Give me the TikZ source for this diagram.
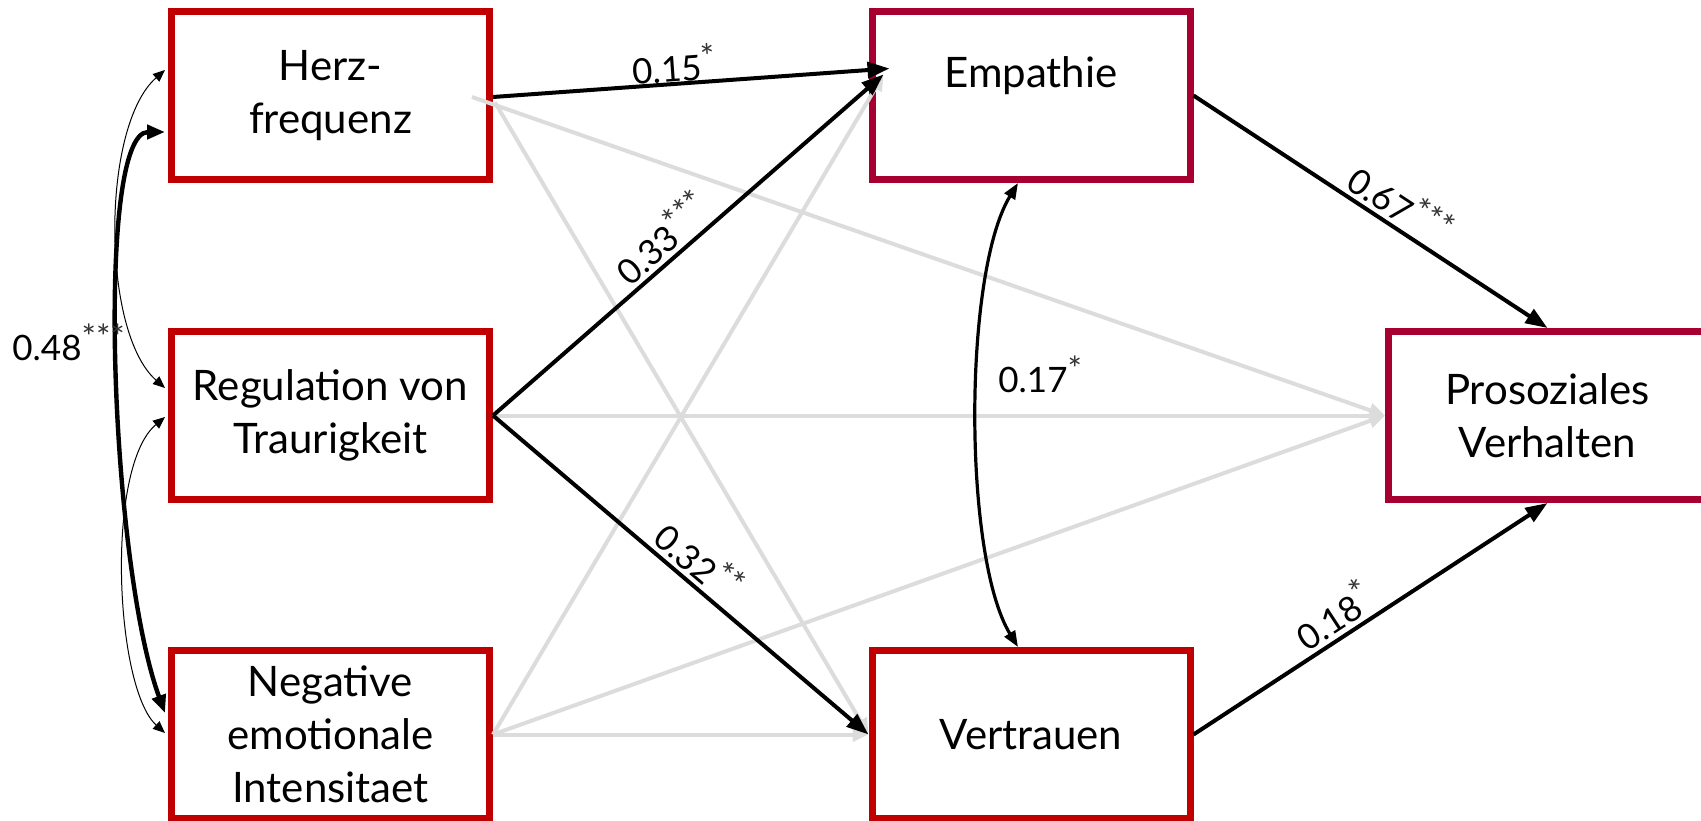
\documentclass[tikz,border=0pt]{standalone}
\usepackage{fontspec}
\setmainfont{Lato}
\usetikzlibrary{arrows.meta,calc}

\definecolor{boxred}{HTML}{C00000}
\definecolor{boxwine}{HTML}{A50030}
\definecolor{pathgray}{HTML}{DCDCDC}

\newcommand{\stars}[1]{\raisebox{0.3em}{\fontsize{17}{17}\selectfont\color{black!80}#1}}

\tikzset{
    var/.style={draw=boxred, line width=3.5pt, minimum width=159pt, minimum height=84pt,
        align=center, font=\fontsize{21}{26.5}\selectfont},
    outcome/.style={var, draw=boxwine},
    sig/.style={line width=2pt, -{Triangle[length=11pt,width=8pt]}},
    nonsig/.style={pathgray, line width=2pt, -{Triangle[length=8pt,width=7pt]}},
    corrthin/.style={line width=0.5pt, {Triangle[length=6pt,width=5pt]}-{Triangle[length=6pt,width=5pt]}},
    corrthick/.style={line width=2.2pt, {Triangle[length=9pt,width=7pt]}-{Triangle[length=9pt,width=7pt]}},
    coeff/.style={font=\fontsize{17.5}{20}\selectfont, inner sep=2pt},
}

\begin{document}
\begin{tikzpicture}[x=0.5pt,y=-0.5pt]
        \useasboundingbox (0,0) rectangle (1701,820);

        \node[var] (herz) at (330.5,95.5) {Herz-\\frequenz};
        \node[var] (reg) at (330.5,415.5) {Regulation von\\Traurigkeit};
        \node[var] (neg) at (330.5,734.5) {Negative\\emotionale\\Intensitaet};

        \node[outcome, text height=8pt, text depth=16.5pt] (emp) at (1031,95.5) {Empathie};
        \node[var] (vert) at (1031,734.5) {Vertrauen};
        \node[outcome] (pro) at (1547.5,415.5) {Prosoziales\\Verhalten};

        \coordinate (emp1) at ($(emp.west)+(21,-27)$);
        \coordinate (emp2) at ($(emp.west)+(15,-21)$);

        % nicht signifikant
        \draw[nonsig] ($(herz.east)+(-21,1.5)$) -- (pro.west);
        \draw[nonsig] ($(herz.east)+(2,7)$) -- (vert.west);
        \draw[nonsig] (reg.east) -- (pro.west);
        \draw[nonsig] (neg.east) -- (emp2);
        \draw[nonsig] (neg.east) -- (pro.west);
        \draw[nonsig] (neg.east) -- (vert.west);

        % signifikant
        \draw[sig] ($(herz.east)+(0,1.5)$) -- node[coeff, sloped, anchor=south, inner sep=0pt, pos=.46] (b1) {0.15\stars{*}} (emp1);
        \draw[sig] (reg.east) -- node[coeff, sloped, above, pos=.47] (b2) {0.33\stars{***}} (emp2);
        \draw[sig] (reg.east) -- node[coeff, sloped, above, pos=.51] (b3) {0.32\stars{**}} (vert.west);
        \draw[sig] (emp.east) -- node[coeff, sloped, above, pos=.55] (b4) {0.67\stars{***}} (pro.north);
        \draw[sig] (vert.east) -- node[coeff, sloped, above, pos=.43] (b5) {0.18\stars{*}} (pro.south);

        % Korrelationen
        \draw[corrthick] ($(herz.west)+(-3,36.5)$) .. controls +(-70,0) and +(-55,-150) .. ($(neg.west)+(-3,-21.5)$);
        \draw[corrthin] ($(herz.west)+(-3,-25.5)$) .. controls +(-64,56) and +(-64,-56) .. ($(reg.west)+(-3,-27.5)$);
        \draw[corrthin] ($(reg.west)+(-3,1.5)$) .. controls +(-60,50) and +(-50,-45) .. ($(neg.west)+(-3,-1.5)$);
        \draw[line width=1.6pt, {Triangle[length=8pt,width=6pt]}-{Triangle[length=8pt,width=6pt]}]
            ($(emp.south)+(-13,0)$) .. controls +(-55,90) and +(-55,-90) .. ($(vert.north)+(-13,0)$);

        \node[coeff, anchor=base west] (b6) at (994,392) {0.17\stars{*}};
        \node[coeff, anchor=base west] (b7) at (8,360) {0.48\stars{***}};
    \end{tikzpicture}
\end{document}
